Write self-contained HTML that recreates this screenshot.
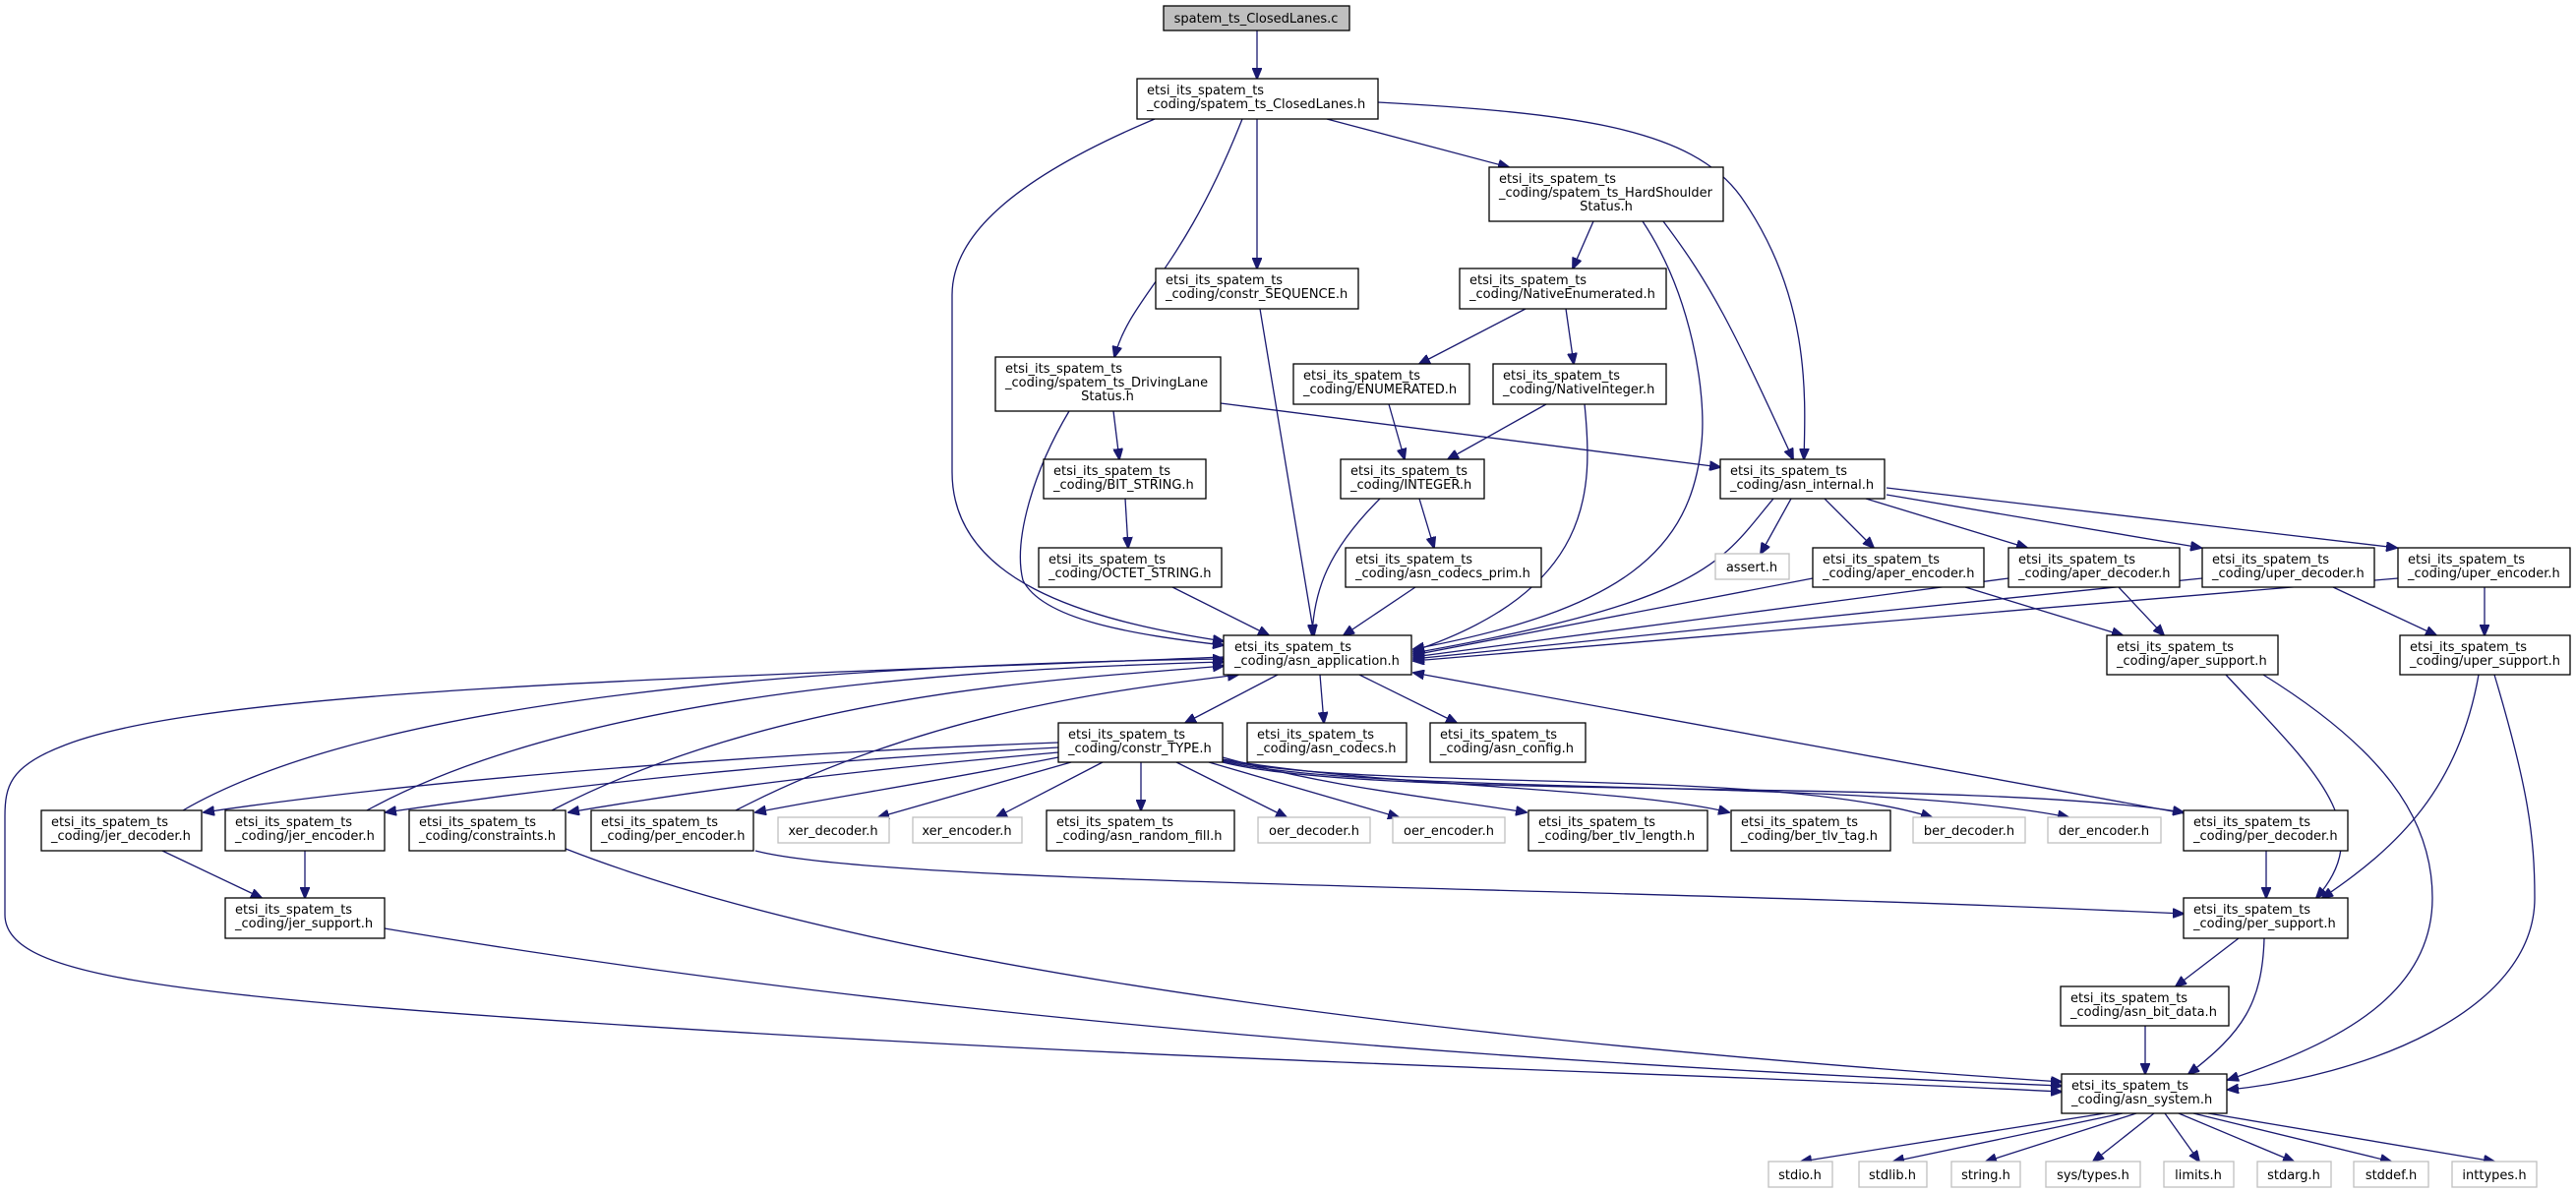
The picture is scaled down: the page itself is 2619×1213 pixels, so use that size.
<!DOCTYPE html>
<html><head><meta charset="utf-8"><style>
html,body{margin:0;padding:0;background:#fff;}
svg{display:block;}
text{font-family:"DejaVu Sans","Liberation Sans",sans-serif;font-size:13px;fill:#000;}
.n{fill:#fff;stroke:#000;stroke-width:1.3;}
.g{fill:#fff;stroke:#bfbfbf;stroke-width:1.3;}
.e{fill:none;stroke:#191970;stroke-width:1.3;}
</style></head><body>
<svg width="2619" height="1213" viewBox="0 0 2619 1213" xmlns="http://www.w3.org/2000/svg">
<defs>
<marker id="a" markerWidth="12" markerHeight="10" refX="11" refY="5" orient="auto" markerUnits="userSpaceOnUse">
<path d="M0,0 L12,5 L0,10 z" fill="#191970" stroke="#191970"/>
</marker>
</defs>
<g class="edges">
<path class="e" marker-end="url(#a)" d="M1278,31 L1278,80"/>
<path class="e" marker-end="url(#a)" d="M1174,121 C1010,190 968,250 968,300 L968,480 C968,590 1100,630 1244,652"/>
<path class="e" marker-end="url(#a)" d="M1263,121 C1200,280 1150,300 1133,363"/>
<path class="e" marker-end="url(#a)" d="M1278,121 L1278,273"/>
<path class="e" marker-end="url(#a)" d="M1349,121 L1534,170"/>
<path class="e" marker-end="url(#a)" d="M1401,104 C1600,115 1720,130 1770,200 C1840,300 1836,400 1834,467"/>
<path class="e" marker-end="url(#a)" d="M1620,225 L1599,273"/>
<path class="e" marker-end="url(#a)" d="M1670,225 C1720,300 1735,400 1730,450 C1720,560 1650,620 1437,660"/>
<path class="e" marker-end="url(#a)" d="M1691,225 C1740,290 1760,330 1823,467"/>
<path class="e" marker-end="url(#a)" d="M1551,314 L1443,370"/>
<path class="e" marker-end="url(#a)" d="M1592,314 L1600,370"/>
<path class="e" marker-end="url(#a)" d="M1412,411 L1428,467"/>
<path class="e" marker-end="url(#a)" d="M1572,411 L1472,467"/>
<path class="e" marker-end="url(#a)" d="M1611,411 C1620,500 1620,600 1437,662"/>
<path class="e" marker-end="url(#a)" d="M1241,410 L1749,475"/>
<path class="e" marker-end="url(#a)" d="M1132,418 L1138,467"/>
<path class="e" marker-end="url(#a)" d="M1087,418 C1050,480 1030,550 1040,590 C1060,630 1150,645 1244,656"/>
<path class="e" marker-end="url(#a)" d="M1144,507 L1147,557"/>
<path class="e" marker-end="url(#a)" d="M1192,597 L1290,646"/>
<path class="e" marker-end="url(#a)" d="M1281,314 L1336,646"/>
<path class="e" marker-end="url(#a)" d="M1403,507 C1350,560 1336,600 1334,646"/>
<path class="e" marker-end="url(#a)" d="M1439,597 L1366,646"/>
<path class="e" marker-end="url(#a)" d="M1443,507 L1458,557"/>
<path class="e" marker-end="url(#a)" d="M1803,507 C1750,570 1740,610 1437,664"/>
<path class="e" marker-end="url(#a)" d="M1821,507 L1790,563"/>
<path class="e" marker-end="url(#a)" d="M1855,507 L1905,557"/>
<path class="e" marker-end="url(#a)" d="M1897,507 L2061,557"/>
<path class="e" marker-end="url(#a)" d="M1918,503 L2238,557"/>
<path class="e" marker-end="url(#a)" d="M1918,496 L2437,557"/>
<path class="e" marker-end="url(#a)" d="M1843,588 L1437,666"/>
<path class="e" marker-end="url(#a)" d="M1998,597 L2158,646"/>
<path class="e" marker-end="url(#a)" d="M2042,588 L1437,668"/>
<path class="e" marker-end="url(#a)" d="M2154,597 L2200,646"/>
<path class="e" marker-end="url(#a)" d="M2239,588 L1437,670"/>
<path class="e" marker-end="url(#a)" d="M2372,597 L2477,646"/>
<path class="e" marker-end="url(#a)" d="M2438,588 L1437,672"/>
<path class="e" marker-end="url(#a)" d="M2526,597 L2526,646"/>
<path class="e" marker-end="url(#a)" d="M2263,686 C2350,780 2420,840 2355,913"/>
<path class="e" marker-end="url(#a)" d="M2301,686 C2420,760 2473,830 2473,913 C2473,1010 2380,1060 2265,1098"/>
<path class="e" marker-end="url(#a)" d="M2520,686 C2500,800 2440,860 2361,913"/>
<path class="e" marker-end="url(#a)" d="M2536,686 C2570,800 2577,850 2577,913 C2577,1030 2400,1095 2265,1108"/>
<path class="e" marker-end="url(#a)" d="M2304,865 L2304,913"/>
<path class="e" marker-end="url(#a)" d="M2220,827 L1437,684"/>
<path class="e" marker-end="url(#a)" d="M2276,954 L2212,1003"/>
<path class="e" marker-end="url(#a)" d="M2302,954 C2300,1020 2280,1050 2225,1092"/>
<path class="e" marker-end="url(#a)" d="M2181,1043 L2181,1092"/>
<path class="e" marker-end="url(#a)" d="M2140,1132 L1831,1181"/>
<path class="e" marker-end="url(#a)" d="M2158,1132 L1925,1181"/>
<path class="e" marker-end="url(#a)" d="M2172,1132 L2019,1181"/>
<path class="e" marker-end="url(#a)" d="M2190,1132 L2128,1181"/>
<path class="e" marker-end="url(#a)" d="M2201,1132 L2236,1181"/>
<path class="e" marker-end="url(#a)" d="M2215,1132 L2332,1181"/>
<path class="e" marker-end="url(#a)" d="M2230,1132 L2431,1181"/>
<path class="e" marker-end="url(#a)" d="M2245,1132 L2536,1181"/>
<path class="e" marker-end="url(#a)" d="M1299,686 L1205,735"/>
<path class="e" marker-end="url(#a)" d="M1342,686 L1346,735"/>
<path class="e" marker-end="url(#a)" d="M1382,686 L1481,735"/>
<path class="e" marker-end="url(#a)" d="M1244,668 C700,690 200,700 60,760 C10,780 5,800 5,830 L5,930 C5,990 150,1010 600,1040 C1200,1080 1700,1090 2096,1110"/>
<path class="e" marker-end="url(#a)" d="M186,824 C400,700 900,675 1244,670"/>
<path class="e" marker-end="url(#a)" d="M373,824 C600,700 1000,680 1244,673"/>
<path class="e" marker-end="url(#a)" d="M561,824 C800,700 1100,690 1244,677"/>
<path class="e" marker-end="url(#a)" d="M748,824 C950,720 1150,700 1259,686"/>
<path class="e" marker-end="url(#a)" d="M1076,755 C800,765 450,790 207,826"/>
<path class="e" marker-end="url(#a)" d="M1076,760 C800,775 600,795 392,826"/>
<path class="e" marker-end="url(#a)" d="M1076,765 C850,785 700,805 578,826"/>
<path class="e" marker-end="url(#a)" d="M1076,770 C950,795 850,810 768,826"/>
<path class="e" marker-end="url(#a)" d="M1089,775 L893,831"/>
<path class="e" marker-end="url(#a)" d="M1121,775 L1013,831"/>
<path class="e" marker-end="url(#a)" d="M1160,775 L1160,824"/>
<path class="e" marker-end="url(#a)" d="M1196,775 L1308,831"/>
<path class="e" marker-end="url(#a)" d="M1229,775 L1422,831"/>
<path class="e" marker-end="url(#a)" d="M1243,770 C1350,800 1450,810 1552,826"/>
<path class="e" marker-end="url(#a)" d="M1243,772 C1400,800 1650,800 1758,826"/>
<path class="e" marker-end="url(#a)" d="M1243,773 C1400,805 1800,780 1964,831"/>
<path class="e" marker-end="url(#a)" d="M1243,774 C1400,810 1900,790 2103,831"/>
<path class="e" marker-end="url(#a)" d="M1243,775 C1400,815 2000,790 2220,826"/>
<path class="e" marker-end="url(#a)" d="M165,865 L266,913"/>
<path class="e" marker-end="url(#a)" d="M310,865 L310,913"/>
<path class="e" marker-end="url(#a)" d="M575,863 C900,990 1500,1060 2096,1100"/>
<path class="e" marker-end="url(#a)" d="M768,865 C900,900 1600,900 2220,929"/>
<path class="e" marker-end="url(#a)" d="M391,944 C900,1030 1500,1080 2096,1104"/>
</g>
<g class="nodes">
<rect x="1183" y="6" width="189" height="25" fill="#bfbfbf" stroke="#000" stroke-width="1.3"/>
<text x="1277" y="23" text-anchor="middle">spatem_ts_ClosedLanes.c</text>

<rect class="n" x="1156" y="80" width="245" height="41"/>
<text x="1166" y="96">etsi_its_spatem_ts</text><text x="1166" y="110">_coding/spatem_ts_ClosedLanes.h</text>

<rect class="n" x="1514" y="170" width="238" height="55"/>
<text x="1524" y="186">etsi_its_spatem_ts</text><text x="1524" y="200">_coding/spatem_ts_HardShoulder</text><text x="1633" y="214" text-anchor="middle">Status.h</text>

<rect class="n" x="1175" y="273" width="206" height="41"/>
<text x="1185" y="289">etsi_its_spatem_ts</text><text x="1185" y="303">_coding/constr_SEQUENCE.h</text>

<rect class="n" x="1484" y="273" width="210" height="41"/>
<text x="1494" y="289">etsi_its_spatem_ts</text><text x="1494" y="303">_coding/NativeEnumerated.h</text>

<rect class="n" x="1012" y="363" width="229" height="55"/>
<text x="1022" y="379">etsi_its_spatem_ts</text><text x="1022" y="393">_coding/spatem_ts_DrivingLane</text><text x="1126" y="407" text-anchor="middle">Status.h</text>

<rect class="n" x="1315" y="370" width="179" height="41"/>
<text x="1325" y="386">etsi_its_spatem_ts</text><text x="1325" y="400">_coding/ENUMERATED.h</text>

<rect class="n" x="1518" y="370" width="176" height="41"/>
<text x="1528" y="386">etsi_its_spatem_ts</text><text x="1528" y="400">_coding/NativeInteger.h</text>

<rect class="n" x="1061" y="467" width="165" height="40"/>
<text x="1071" y="483">etsi_its_spatem_ts</text><text x="1071" y="497">_coding/BIT_STRING.h</text>

<rect class="n" x="1363" y="467" width="146" height="40"/>
<text x="1373" y="483">etsi_its_spatem_ts</text><text x="1373" y="497">_coding/INTEGER.h</text>

<rect class="n" x="1749" y="467" width="167" height="40"/>
<text x="1759" y="483">etsi_its_spatem_ts</text><text x="1759" y="497">_coding/asn_internal.h</text>

<rect class="n" x="1056" y="557" width="186" height="40"/>
<text x="1066" y="573">etsi_its_spatem_ts</text><text x="1066" y="587">_coding/OCTET_STRING.h</text>

<rect class="n" x="1368" y="557" width="199" height="40"/>
<text x="1378" y="573">etsi_its_spatem_ts</text><text x="1378" y="587">_coding/asn_codecs_prim.h</text>

<rect class="g" x="1744" y="563" width="75" height="26"/>
<text x="1781" y="581" text-anchor="middle">assert.h</text>

<rect class="n" x="1843" y="557" width="174" height="40"/>
<text x="1853" y="573">etsi_its_spatem_ts</text><text x="1853" y="587">_coding/aper_encoder.h</text>
<rect class="n" x="2042" y="557" width="174" height="40"/>
<text x="2052" y="573">etsi_its_spatem_ts</text><text x="2052" y="587">_coding/aper_decoder.h</text>
<rect class="n" x="2239" y="557" width="175" height="40"/>
<text x="2249" y="573">etsi_its_spatem_ts</text><text x="2249" y="587">_coding/uper_decoder.h</text>
<rect class="n" x="2438" y="557" width="175" height="40"/>
<text x="2448" y="573">etsi_its_spatem_ts</text><text x="2448" y="587">_coding/uper_encoder.h</text>

<rect class="n" x="1244" y="646" width="191" height="40"/>
<text x="1255" y="662">etsi_its_spatem_ts</text><text x="1255" y="676">_coding/asn_application.h</text>

<rect class="n" x="2142" y="646" width="174" height="40"/>
<text x="2152" y="662">etsi_its_spatem_ts</text><text x="2152" y="676">_coding/aper_support.h</text>
<rect class="n" x="2440" y="646" width="173" height="40"/>
<text x="2450" y="662">etsi_its_spatem_ts</text><text x="2450" y="676">_coding/uper_support.h</text>

<rect class="n" x="1076" y="735" width="167" height="40"/>
<text x="1086" y="751">etsi_its_spatem_ts</text><text x="1086" y="765">_coding/constr_TYPE.h</text>
<rect class="n" x="1268" y="735" width="162" height="40"/>
<text x="1278" y="751">etsi_its_spatem_ts</text><text x="1278" y="765">_coding/asn_codecs.h</text>
<rect class="n" x="1454" y="735" width="158" height="40"/>
<text x="1464" y="751">etsi_its_spatem_ts</text><text x="1464" y="765">_coding/asn_config.h</text>

<rect class="n" x="42" y="824" width="163" height="41"/>
<text x="52" y="840">etsi_its_spatem_ts</text><text x="52" y="854">_coding/jer_decoder.h</text>
<rect class="n" x="229" y="824" width="162" height="41"/>
<text x="239" y="840">etsi_its_spatem_ts</text><text x="239" y="854">_coding/jer_encoder.h</text>
<rect class="n" x="416" y="824" width="159" height="41"/>
<text x="426" y="840">etsi_its_spatem_ts</text><text x="426" y="854">_coding/constraints.h</text>
<rect class="n" x="601" y="824" width="165" height="41"/>
<text x="611" y="840">etsi_its_spatem_ts</text><text x="611" y="854">_coding/per_encoder.h</text>

<rect class="g" x="791" y="831" width="113" height="26"/>
<text x="847" y="849" text-anchor="middle">xer_decoder.h</text>
<rect class="g" x="928" y="831" width="111" height="26"/>
<text x="983" y="849" text-anchor="middle">xer_encoder.h</text>
<rect class="n" x="1064" y="824" width="191" height="41"/>
<text x="1074" y="840">etsi_its_spatem_ts</text><text x="1074" y="854">_coding/asn_random_fill.h</text>
<rect class="g" x="1279" y="831" width="114" height="26"/>
<text x="1336" y="849" text-anchor="middle">oer_decoder.h</text>
<rect class="g" x="1416" y="831" width="114" height="26"/>
<text x="1473" y="849" text-anchor="middle">oer_encoder.h</text>
<rect class="n" x="1554" y="824" width="182" height="41"/>
<text x="1564" y="840">etsi_its_spatem_ts</text><text x="1564" y="854">_coding/ber_tlv_length.h</text>
<rect class="n" x="1760" y="824" width="162" height="41"/>
<text x="1770" y="840">etsi_its_spatem_ts</text><text x="1770" y="854">_coding/ber_tlv_tag.h</text>
<rect class="g" x="1945" y="831" width="114" height="26"/>
<text x="2002" y="849" text-anchor="middle">ber_decoder.h</text>
<rect class="g" x="2082" y="831" width="115" height="26"/>
<text x="2139" y="849" text-anchor="middle">der_encoder.h</text>
<rect class="n" x="2220" y="824" width="167" height="41"/>
<text x="2230" y="840">etsi_its_spatem_ts</text><text x="2230" y="854">_coding/per_decoder.h</text>

<rect class="n" x="229" y="913" width="162" height="41"/>
<text x="239" y="929">etsi_its_spatem_ts</text><text x="239" y="943">_coding/jer_support.h</text>
<rect class="n" x="2220" y="913" width="167" height="41"/>
<text x="2230" y="929">etsi_its_spatem_ts</text><text x="2230" y="943">_coding/per_support.h</text>

<rect class="n" x="2095" y="1003" width="171" height="40"/>
<text x="2105" y="1019">etsi_its_spatem_ts</text><text x="2105" y="1033">_coding/asn_bit_data.h</text>

<rect class="n" x="2096" y="1092" width="168" height="40"/>
<text x="2106" y="1108">etsi_its_spatem_ts</text><text x="2106" y="1122">_coding/asn_system.h</text>

<rect class="g" x="1798" y="1181" width="65" height="26"/><text x="1830" y="1199" text-anchor="middle">stdio.h</text>
<rect class="g" x="1890" y="1181" width="69" height="26"/><text x="1924" y="1199" text-anchor="middle">stdlib.h</text>
<rect class="g" x="1984" y="1181" width="70" height="26"/><text x="2019" y="1199" text-anchor="middle">string.h</text>
<rect class="g" x="2080" y="1181" width="96" height="26"/><text x="2128" y="1199" text-anchor="middle">sys/types.h</text>
<rect class="g" x="2200" y="1181" width="71" height="26"/><text x="2235" y="1199" text-anchor="middle">limits.h</text>
<rect class="g" x="2295" y="1181" width="75" height="26"/><text x="2332" y="1199" text-anchor="middle">stdarg.h</text>
<rect class="g" x="2393" y="1181" width="76" height="26"/><text x="2431" y="1199" text-anchor="middle">stddef.h</text>
<rect class="g" x="2493" y="1181" width="86" height="26"/><text x="2536" y="1199" text-anchor="middle">inttypes.h</text>
</g>
</svg>
</body></html>
